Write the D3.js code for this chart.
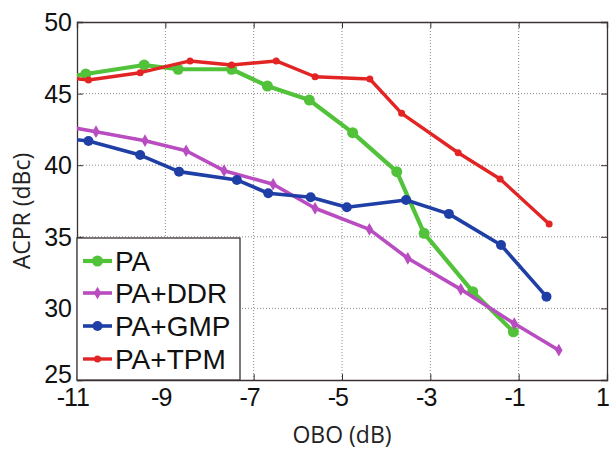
<!DOCTYPE html>
<html>
<head>
<meta charset="utf-8">
<script src="https://cdn.jsdelivr.net/npm/d3@7"></script>
<style>
  html, body { margin: 0; padding: 0; background: #fff; }
  svg { display: block; }
</style>
</head>
<body>
<svg id="chart" width="610" height="450"></svg>
<script>
// ---- data ----
const seriesNames = ["PA", "PA+DDR", "PA+GMP", "PA+TPM"];
const xTicks = [-11, -9, -7, -5, -3, -1, 1];
const yTicks = [25, 30, 35, 40, 45, 50];

const paX   = [-11.5, -10.80, -9.48, -8.71, -7.50, -6.69, -5.74, -4.76, -3.76, -3.14, -2.04, -1.12];
const paY   = [46.05, 46.37, 47.00, 46.70, 46.70, 45.53, 44.55, 42.27, 39.55, 35.24, 31.17, 28.37];

const ddrX  = [-11.5, -10.57, -9.46, -8.53, -7.67, -6.56, -5.61, -4.38, -3.51, -2.31, -1.10, -0.09];
const ddrY  = [42.85, 42.34, 41.71, 41.01, 39.62, 38.67, 36.99, 35.52, 33.50, 31.33, 28.94, 27.08];

const gmpX  = [-11.5, -10.74, -9.57, -8.69, -7.38, -6.67, -5.71, -4.89, -3.55, -2.58, -1.40, -0.37];
const gmpY  = [41.95, 41.69, 40.71, 39.55, 38.97, 38.04, 37.76, 37.06, 37.57, 36.60, 34.43, 30.82];

const tpmX  = [-11.5, -10.74, -9.57, -8.44, -7.50, -6.49, -5.61, -4.37, -3.65, -2.37, -1.42, -0.31];
const tpmY  = [46.20, 45.95, 46.46, 47.28, 47.00, 47.28, 46.18, 46.02, 43.62, 40.87, 39.04, 35.89];

// ---- styles ----
const styles = [
  { color: "#52c23a", width: 4.2, marker: "circle", r: 5.5 },
  { color: "#b84cc0", width: 3.6, marker: "diamond", r: 4.6 },
  { color: "#1f3fa6", width: 3.6, marker: "circle", r: 5 },
  { color: "#e32424", width: 3.4, marker: "dot", r: 3.5 }
];
const seriesX = [paX, ddrX, gmpX, tpmX];
const seriesY = [paY, ddrY, gmpY, tpmY];

const svg = d3.select("#chart");
const L = 77, R = 607, T = 22, B = 380;

const x = d3.scaleLinear().domain([-11, 1]).range([L, R]);
const y = d3.scaleLinear().domain([25, 50]).range([B, T]);

// clip
svg.append("defs").append("clipPath").attr("id", "plotclip")
  .append("rect").attr("x", L).attr("y", T).attr("width", R - L).attr("height", B - T);

// plot background
svg.append("rect").attr("x", L).attr("y", T).attr("width", R - L).attr("height", B - T).attr("fill", "#fff");

// grid
const grid = svg.append("g");
grid.selectAll("line.gx").data(xTicks.filter(d => d > -11 && d < 1)).enter().append("line")
  .attr("x1", d => x(d)).attr("x2", d => x(d)).attr("y1", T).attr("y2", B)
  .attr("stroke", "#8a8a8a").attr("stroke-width", 1).attr("stroke-dasharray", "1,2");
grid.selectAll("line.gy").data(yTicks.filter(d => d > 25 && d < 50)).enter().append("line")
  .attr("x1", L).attr("x2", R).attr("y1", d => y(d)).attr("y2", d => y(d))
  .attr("stroke", "#8a8a8a").attr("stroke-width", 1).attr("stroke-dasharray", "1,2");

// axes via d3 (inward ticks)
const axisColor = "#3a3232";
const xAxisB = svg.append("g").attr("transform", `translate(0,${B})`)
  .call(d3.axisBottom(x).tickValues(xTicks).tickSize(-6).tickFormat(""));
const xAxisT = svg.append("g").attr("transform", `translate(0,${T})`)
  .call(d3.axisTop(x).tickValues(xTicks).tickSize(-6).tickFormat(""));
const yAxisL = svg.append("g").attr("transform", `translate(${L},0)`)
  .call(d3.axisLeft(y).tickValues(yTicks).tickSize(-6).tickFormat(""));
const yAxisR = svg.append("g").attr("transform", `translate(${R},0)`)
  .call(d3.axisRight(y).tickValues(yTicks).tickSize(-6).tickFormat(""));
[xAxisB, xAxisT, yAxisL, yAxisR].forEach(g => {
  g.selectAll("path.domain").attr("stroke", axisColor).attr("stroke-width", 1.3);
  g.selectAll(".tick line").attr("stroke", axisColor).attr("stroke-width", 1);
});

// series
const plot = svg.append("g").attr("clip-path", "url(#plotclip)");
seriesNames.forEach((name, i) => {
  const pts = seriesX[i].map((xv, j) => [xv, seriesY[i][j]]);
  const st = styles[i];
  const g = plot.append("g");
  g.append("path").datum(pts)
    .attr("d", d3.line().x(d => x(d[0])).y(d => y(d[1])))
    .attr("fill", "none").attr("stroke", st.color).attr("stroke-width", st.width)
    .attr("stroke-linejoin", "round");
  drawMarkers(g, pts.map(d => [x(d[0]), y(d[1])]), st);
});

function drawMarkers(g, pxPts, st) {
  if (st.marker === "diamond") {
    g.selectAll("path.m").data(pxPts).enter().append("path")
      .attr("d", d3.symbol().type(d3.symbolDiamond).size(st.r * st.r * 2.2))
      .attr("transform", d => `translate(${d[0]},${d[1]})`)
      .attr("fill", st.color);
  } else {
    g.selectAll("circle.m").data(pxPts).enter().append("circle")
      .attr("cx", d => d[0]).attr("cy", d => d[1]).attr("r", st.r)
      .attr("fill", st.color);
  }
}

// tick labels
const tickFont = "Arial, 'Liberation Sans', Helvetica, sans-serif";
const tickSize = 25;
xTicks.forEach(v => {
  const digits = String(Math.abs(v));
  const atEdge = v === 1;
  const t = svg.append("text").attr("x", atEdge ? 610 : x(v)).attr("y", 406)
    .attr("text-anchor", atEdge ? "end" : "middle").attr("font-family", tickFont).attr("font-size", tickSize)
    .attr("fill", "#111").text(digits);
  if (v < 0) {
    const w = t.node().getComputedTextLength();
    svg.append("text").attr("x", x(v) - w / 2 + 1).attr("y", 406)
      .attr("text-anchor", "end").attr("font-family", tickFont).attr("font-size", tickSize)
      .attr("fill", "#111").text("-");
  }
});
yTicks.forEach(v => {
  svg.append("text").attr("x", 72).attr("y", y(v) + (v === 25 ? 3 : 9))
    .attr("text-anchor", "end").attr("font-family", tickFont).attr("font-size", tickSize)
    .attr("fill", "#111").text(v);
});

// axis titles
const titleFont = "'Open Sans', Lato, sans-serif";
svg.append("text").attr("x", 342).attr("y", 443).attr("text-anchor", "middle")
  .attr("font-family", titleFont).attr("font-size", 23).attr("fill", "#222").text("OBO (dB)");
svg.append("text").attr("transform", "translate(30,211) rotate(-90)").attr("text-anchor", "middle")
  .attr("font-family", titleFont).attr("font-size", 23).attr("fill", "#222").text("ACPR (dBc)");

// legend
const leg = svg.append("g");
leg.append("rect").attr("x", 77).attr("y", 238).attr("width", 163).attr("height", 142)
  .attr("fill", "#fff").attr("stroke", "#3a3030").attr("stroke-width", 1.3);
const legY = [261, 293, 326, 359];
seriesNames.forEach((name, i) => {
  const st = styles[i];
  const gy = legY[i];
  leg.append("line").attr("x1", 83).attr("x2", 112).attr("y1", gy).attr("y2", gy)
    .attr("stroke", st.color).attr("stroke-width", st.width);
  drawMarkers(leg.append("g"), [[97.5, gy]], st);
  leg.append("text").attr("x", 115).attr("y", gy + 10).attr("font-family", tickFont)
    .attr("font-size", 28).attr("fill", "#111").text(name);
});
</script>
</body>
</html>
